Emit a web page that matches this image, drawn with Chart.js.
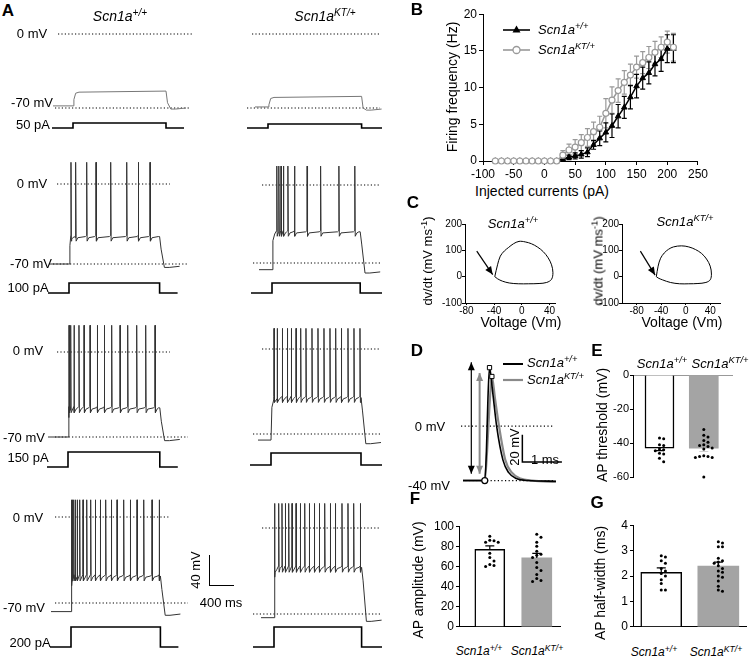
<!DOCTYPE html>
<html>
<head>
<meta charset="utf-8">
<title>Scn1a firing properties</title>
<script src="https://cdn.jsdelivr.net/npm/chart.js@4.4.1/dist/chart.umd.min.js"></script>
<style>
  body { margin: 0; background: #fff; }
  #fig { position: relative; width: 750px; height: 656px; overflow: hidden; font-family: "Liberation Sans", Arial, sans-serif; color: #000; }
  #fig canvas { position: absolute; }
  .t { position: absolute; white-space: nowrap; line-height: 1; }
  .t sup { font-size: 0.72em; vertical-align: 0.5em; line-height: 0; }
  .it { font-style: italic; }
  .pl { font-weight: bold; }
  .sb { position: absolute; background: #000; }
  svg { position: absolute; overflow: visible; }
</style>
</head>
<body>
<div id="fig"></div>
<script>
// ---------- A: evoked firing (time in ms from step onset, voltage in mV) ----------
const stepCurrents = [50, 100, 150, 200];
const stepDurWT = [1550, 1510, 1530, 1490];
const stepDurKT = [1560, 1470, 1500, 1460];
const restWT = [-68, -70, -70, -77];
const restKT = [-69, -76, -75, -73];
const plateauWT = [-55, -47, -47, -49];
const plateauKT = [-60, -43, -41, -33];
const peakWT = [null, 19, 22, 14];
const peakKT = [null, 17, 17, 20];
const spikesWT = [
  [],
  [33, 112, 295, 450, 695, 962, 1155, 1350],
  [17, 45, 100, 183, 267, 367, 488, 605, 728, 867, 995, 1145, 1295, 1450],
  [10, 25, 45, 70, 105, 145, 200, 262, 328, 405, 488, 578, 672, 767, 878, 988, 1100, 1212, 1350, 1470],
];
const spikesKT = [
  [],
  [80, 115, 150, 190, 265, 375, 585, 810, 1115, 1380],
  [50, 105, 188, 272, 338, 417, 495, 583, 683, 783, 883, 983, 1078, 1172, 1283, 1383, 1483],
  [12, 78, 133, 188, 245, 300, 367, 438, 512, 588, 672, 755, 845, 938, 1022, 1133, 1233, 1328, 1438],
];

// ---------- B: firing frequency vs injected current ----------
const injected = [-80, -70, -60, -50, -40, -30, -20, -10, 0, 10, 20, 30, 40, 50, 60, 70, 80, 90, 100, 110, 120, 130, 140, 150, 160, 170, 180, 190, 200, 210];
const freqWT = [0, 0, 0, 0, 0, 0, 0, 0, 0, 0, 0, 0.3, 0.5, 0.7, 0.9, 1.2, 2.2, 3.1, 3.9, 4.8, 6.1, 7.3, 8.7, 10.2, 11.3, 12.0, 13.2, 13.9, 15.3, 15.3];
const semWT = [0, 0, 0, 0, 0, 0, 0, 0, 0, 0, 0, 0.2, 0.3, 0.4, 0.5, 0.6, 0.6, 1.0, 1.3, 1.6, 1.6, 1.5, 1.6, 1.6, 1.5, 1.5, 1.6, 1.7, 1.9, 1.9];
const freqKT = [0, 0, 0, 0, 0, 0, 0, 0, 0, 0, 0, 0.8, 1.5, 1.9, 2.5, 3.2, 4.0, 4.6, 6.5, 8.3, 9.6, 10.7, 11.7, 12.8, 13.4, 14.1, 14.8, 15.5, 16.2, 15.5];
const semKT = [0, 0, 0, 0, 0, 0, 0, 0, 0, 0, 0, 0.6, 0.8, 1.0, 1.1, 1.2, 1.3, 1.5, 2.0, 1.8, 1.6, 1.6, 1.5, 1.5, 1.5, 1.5, 1.5, 1.4, 1.5, 1.9];
const bTicksX = [-100, -50, 0, 50, 100, 150, 200, 250];
const bTicksY = [0, 5, 10, 15, 20];

// ---------- C: phase plots (Vm, dV/dt) ----------
const phaseVmWT = [-39, -35, -31, -25, -19, -12, -4, 5, 14, 23, 31, 38, 43, 45, 43, 36, 25, 10, -5, -18, -28, -35, -39];
const phaseDvWT = [0, 45, 78, 98, 111, 125, 134, 132, 125, 112, 95, 72, 45, 15, -10, -22, -26, -27, -27, -24, -17, -8, 0];
const phaseVmKT = [-48, -45, -41, -35, -28, -20, -7, 5, 16, 26, 34, 40, 42, 40, 33, 20, 5, -10, -25, -38, -45, -48];
const phaseDvKT = [0, 40, 70, 90, 104, 113, 117, 113, 103, 88, 67, 40, 10, -12, -22, -26, -27, -27, -22, -12, -5, 0];
const cTicksX = [-80, -40, 0, 40];
const cTicksY = [-100, 0, 100, 200];

// ---------- D: single action potentials (ms, mV) ----------
const apTimeWT = [-0.55, 0, 0.04, 0.08, 0.12, 0.2, 0.3, 0.46, 0.6, 0.8, 1.1, 1.8];
const apVoltWT = [-40, -40, -20, 20, 43, 25, 0, -25, -34, -38.5, -40, -40.5];
const apTimeKT = [-0.55, 0, 0.06, 0.12, 0.18, 0.26, 0.36, 0.52, 0.68, 0.9, 1.2, 1.8];
const apVoltKT = [-40, -40, -18, 15, 36.5, 20, 0, -25, -34, -38.5, -40, -41];

// ---------- E-G: AP properties (mean, SEM, cells) ----------
const thrMean = [-43, -43];
const thrSem = [1.5, 2.0];
const thrWT = [-37, -37.5, -41, -41.5, -43.5, -44, -44.5, -46, -46.5, -49, -51];
const thrKT = [-32, -35.5, -36.5, -38.5, -39.5, -41, -41.5, -42, -43, -43.5, -47.5, -48, -48, -48.5, -48.5, -60];
const ampMean = [77, 68.5];
const ampSem = [3.4, 4.5];
const ampWT = [90, 86, 85.5, 84, 84, 73, 69, 65.5, 62, 61, 60];
const ampKT = [92, 89, 84, 80, 75, 72, 71, 69, 64, 59, 56, 52, 48, 46, 45];
const hwMean = [2.14, 2.39];
const hwSem = [0.18, 0.16];
const hwWT = [2.8, 2.75, 2.6, 2.5, 2.3, 2.2, 2.1, 2.0, 1.85, 1.7, 1.45, 1.45];
const hwKT = [3.35, 3.3, 3.15, 3.15, 2.7, 2.6, 2.55, 2.5, 2.4, 2.3, 2.2, 2.15, 2.0, 1.95, 1.8, 1.6, 1.45, 1.4];
const thrTicks = [-60, -40, -20, 0];
const ampTicks = [0, 20, 40, 60, 80, 100];
const hwTicks = [0, 1, 2, 3, 4];

const WT = 'Scn1a<sup>+/+</sup>';
const KT = 'Scn1a<sup>KT/+</sup>';
const GRAY = '#999';
const BAR_GRAY = '#a4a4a4';

// ---------- helpers ----------
const fig = document.getElementById('fig');
Chart.defaults.font.family = '"Liberation Sans", Arial, sans-serif';
Chart.defaults.font.size = 12;
Chart.defaults.color = '#000';

function canvasAt(left, top, w, h) {
  const c = document.createElement('canvas');
  c.width = w;
  c.height = h;
  c.style.left = left + 'px';
  c.style.top = top + 'px';
  c.style.width = w + 'px';
  c.style.height = h + 'px';
  fig.appendChild(c);
  return c.getContext('2d');
}

function label(html, x, y, size, cls, anchor) {
  const d = document.createElement('div');
  d.className = 't ' + (cls || '');
  d.innerHTML = html;
  d.style.left = x + 'px';
  d.style.top = y + 'px';
  d.style.fontSize = size + 'px';
  const tx = anchor === 'left' ? '0' : '-50%';
  d.style.transform = `translate(${tx},-50%)` + ((cls || '').includes('rot') ? ' rotate(-90deg)' : '');
  fig.appendChild(d);
}

function legendMark(x0, x1, y, color, width, marker) {
  const s = document.createElementNS('http://www.w3.org/2000/svg', 'svg');
  s.setAttribute('width', 1);
  s.setAttribute('height', 1);
  s.style.left = '0px';
  s.style.top = '0px';
  const mx = (x0 + x1) / 2;
  let m = '';
  if (marker === 'triangle') m = `<polygon points="${mx},${y - 4.5} ${mx - 4},${y + 2.5} ${mx + 4},${y + 2.5}" fill="${color}"/>`;
  if (marker === 'circle') m = `<circle cx="${mx}" cy="${y}" r="3.5" fill="#fff" stroke="${color}" stroke-width="1.3"/>`;
  s.innerHTML = `<line x1="${x0}" y1="${y}" x2="${x1}" y2="${y}" stroke="${color}" stroke-width="${width}"/>` + m;
  fig.appendChild(s);
}

function scaleBar(x, y, w, h) {
  const d = document.createElement('div');
  d.className = 'sb';
  d.style.left = x + 'px';
  d.style.top = y + 'px';
  d.style.width = w + 'px';
  d.style.height = h + 'px';
  fig.appendChild(d);
}

function axis(min, max, ticks, size, tickFont, tickLen, tickPad) {
  return {
    type: 'linear',
    min: min,
    max: max,
    afterBuildTicks: (s) => { s.ticks = ticks.map((v) => ({ value: v })); },
    afterFit: (s) => { if (s.isHorizontal()) s.height = size; else s.width = size; },
    grid: { drawOnChartArea: false, drawTicks: true, tickLength: tickLen || 4, color: '#000', tickColor: '#000' },
    border: { display: true, color: '#000', width: 1 },
    ticks: { padding: tickPad === undefined ? 2 : tickPad, color: '#000', font: { size: tickFont || 12 }, maxRotation: 0, autoSkip: false },
  };
}

function hidden(min, max) {
  return { type: 'linear', display: false, min: min, max: max };
}

function baseOptions(scales, padding, plugins) {
  return {
    responsive: false,
    animation: false,
    devicePixelRatio: 1,
    events: [],
    layout: { padding: padding },
    scales: scales,
    plugins: Object.assign({ legend: { display: false }, tooltip: { enabled: false } }, plugins || {}),
  };
}

function drawErrors(chart, i) {
  const ds = chart.data.datasets[i];
  const meta = chart.getDatasetMeta(i);
  const ys = chart.scales[meta.yAxisID];
  const ctx = chart.ctx;
  ctx.save();
  ctx.strokeStyle = ds.errorColor;
  ctx.lineWidth = ds.errorWidth || 1;
  meta.data.forEach((el, j) => {
    const e = ds.errors[j];
    if (!e) return;
    const v = ds.data[j].y;
    const ends = ds.oneSided ? [v + (v < 0 ? -e : e)] : [v - e, v + e];
    const y0 = ys.getPixelForValue(v);
    ends.forEach((end) => {
      const y1 = ys.getPixelForValue(end);
      ctx.beginPath();
      ctx.moveTo(el.x, y0);
      ctx.lineTo(el.x, y1);
      ctx.moveTo(el.x - ds.capWidth / 2, y1);
      ctx.lineTo(el.x + ds.capWidth / 2, y1);
      ctx.stroke();
    });
  });
  ctx.restore();
}

const errorBars = {
  id: 'errorBars',
  beforeDatasetsDraw(chart) {
    chart.data.datasets.forEach((ds, i) => { if (ds.errors && ds.errorsBehind) drawErrors(chart, i); });
  },
  afterDatasetDraw(chart, args) {
    const ds = chart.data.datasets[args.index];
    if (ds.errors && !ds.errorsBehind) drawErrors(chart, args.index);
  },
};

function arrowHead(ctx, x0, y0, x1, y1, len, half) {
  const a = Math.atan2(y1 - y0, x1 - x0);
  ctx.beginPath();
  ctx.moveTo(x1, y1);
  ctx.lineTo(x1 - len * Math.cos(a) + half * Math.sin(a), y1 - len * Math.sin(a) - half * Math.cos(a));
  ctx.lineTo(x1 - len * Math.cos(a) - half * Math.sin(a), y1 - len * Math.sin(a) + half * Math.cos(a));
  ctx.closePath();
  ctx.fill();
}

const arrows = {
  id: 'arrows',
  afterDatasetsDraw(chart, args, opts) {
    const list = opts.list || [];
    const ctx = chart.ctx;
    list.forEach((a) => {
      const xs = chart.scales.x;
      const ys = chart.scales.y;
      const x0 = xs.getPixelForValue(a.from[0]);
      const y0 = ys.getPixelForValue(a.from[1]);
      const x1 = xs.getPixelForValue(a.to[0]);
      const y1 = ys.getPixelForValue(a.to[1]);
      ctx.save();
      ctx.strokeStyle = a.color;
      ctx.fillStyle = a.color;
      ctx.lineWidth = a.width;
      ctx.beginPath();
      ctx.moveTo(x0, y0);
      ctx.lineTo(x1, y1);
      ctx.stroke();
      arrowHead(ctx, x0, y0, x1, y1, 8, 3.5);
      if (a.double) arrowHead(ctx, x1, y1, x0, y0, 8, 3.5);
      ctx.restore();
    });
  },
};

Chart.register(errorBars, arrows);

function line(data, color, width, extra) {
  return Object.assign({
    data: data,
    showLine: true,
    borderColor: color,
    borderWidth: width,
    pointRadius: 0,
    tension: 0,
    fill: false,
  }, extra || {});
}

// ---------- A: traces ----------
const MS_PER_PX = 400 / 24;
const px = (v) => v * MS_PER_PX;

// [stepX, 0 mV y, -70 mV y, step base y, step top y, 0 mV line from/to, -70 mV line from/to] in px
const cellLayout = [
  [73, 34, 108, 128, 123, -15, 120, -18, 117],
  [268, 34, 108, 128, 124, -16, 112, -21, 112],
  [69, 184, 264, 293, 283, -12, 101, -16, 119],
  [272, 185, 263, 293, 283, -10, 108, -19, 108],
  [68, 352, 437, 467, 452, -11, 102, -13, 120],
  [271, 349, 434, 465, 453, -9, 109, -18, 109],
  [71, 517, 603, 647, 627, -16, 99, -16, 117],
  [274, 528, 614, 647, 627, -12, 106, -21, 106],
];

const genotypes = [
  { rest: restWT, plateau: plateauWT, peak: peakWT, spikes: spikesWT, dur: stepDurWT },
  { rest: restKT, plateau: plateauKT, peak: peakKT, spikes: spikesKT, dur: stepDurKT },
];

function buildTrace(rest, plateau, peak, spikes, dur, t0, t1) {
  const pts = [
    { x: t0, y: rest }, { x: 0, y: rest },
    { x: 15, y: plateau - 7 }, { x: 45, y: plateau - 1 }, { x: 100, y: plateau },
  ];
  spikes.forEach((t, j) => {
    const next = j + 1 < spikes.length ? spikes[j + 1] : dur;
    pts.push({ x: t - 3, y: plateau + 2 }, { x: t, y: peak }, { x: t + 7, y: plateau - 3 });
    if (next - t > 70) pts.push({ x: t + 35, y: plateau }, { x: next - 22, y: plateau + 1 });
  });
  pts.push(
    { x: dur, y: plateau + 1 }, { x: dur + 25, y: plateau - 10 },
    { x: dur + 80, y: rest - 3 }, { x: dur + 160, y: rest - 3 }, { x: t1, y: rest - 2 }
  );
  return pts.sort((a, b) => a.x - b.x);
}

cellLayout.forEach((L, idx) => {
  const row = Math.floor(idx / 2);
  const col = idx % 2;
  const g = genotypes[col];
  const [upX, zeroY, m70Y, baseY, highY, z0, z1, m0, m1] = L;
  const left = upX - 25;
  const width = col === 0 ? 150 : 382 - left;
  const top = Math.max(0, zeroY - 34);
  const height = baseY + 4 - top;
  const k = (m70Y - zeroY) / 70;
  const yMax = (zeroY - top) / k;
  const yMin = yMax - height / k;
  const amp = stepCurrents[row];
  const k2 = (baseY - highY) / amp;
  const y2Max = (baseY - top) / k2;
  const y2Min = y2Max - height / k2;
  const dur = g.dur[row];

  const trace = buildTrace(g.rest[row], g.plateau[row], g.peak[row], g.spikes[row], dur, px(col === 0 ? -20 : -13), dur + px(20));
  const step = [
    { x: px(-21), y: 0 }, { x: 0, y: 0 }, { x: 0, y: amp },
    { x: dur, y: amp }, { x: dur, y: 0 }, { x: dur + px(col === 0 ? 18 : 40), y: 0 },
  ];
  const dots = { borderDash: [1.2, 2.2], order: 3 };

  new Chart(canvasAt(left, top, width, height), {
    type: 'scatter',
    data: {
      datasets: [
        line(trace, row === 0 ? '#777' : '#333', 1, { order: 1 }),
        line([{ x: px(z0), y: 0 }, { x: px(z1), y: 0 }], '#000', 1.2, dots),
        line([{ x: px(m0), y: -70 }, { x: px(m1), y: -70 }], '#000', 1.2, dots),
        line(step, '#000', 1.6, { yAxisID: 'y2', order: 2 }),
      ],
    },
    options: baseOptions({
      x: hidden(px(-25), px(width - 25)),
      y: hidden(yMin, yMax),
      y2: Object.assign(hidden(y2Min, y2Max), { position: 'right' }),
    }, 0),
  });
});

label('A', 8, 10, 17, 'pl');
label(WT, 120, 16, 14, 'it');
label(KT, 325, 16, 14, 'it');
const aLabels = [
  ['0 mV', 32, 33], ['-70 mV', 32, 102], ['50 pA', 33, 124],
  ['0 mV', 32, 183], ['-70 mV', 31, 263], ['100 pA', 28, 287],
  ['0 mV', 28, 350], ['-70 mV', 24, 437], ['150 pA', 28, 457],
  ['0 mV', 28, 517], ['-70 mV', 24, 607], ['200 pA', 30, 642],
];
aLabels.forEach(([t, x, y]) => label(t, x, y, 13));
scaleBar(208.5, 555, 1.5, 31);
scaleBar(208.5, 584.5, 25, 1.5);
label('40 mV', 195, 570, 13, 'rot');
label('400 ms', 221, 602, 13);

// ---------- B ----------
new Chart(canvasAt(448, 5, 262, 174), {
  type: 'scatter',
  data: {
    datasets: [
      line(injected.map((x, i) => ({ x: x, y: freqKT[i] })), GRAY, 1.5, {
        pointStyle: 'circle', pointRadius: 3, pointBackgroundColor: '#fff',
        pointBorderColor: GRAY, pointBorderWidth: 1.2, clip: false, order: 0,
        errors: semKT, errorColor: GRAY, errorsBehind: true, capWidth: 5, errorWidth: 1.2,
      }),
      line(injected.map((x, i) => ({ x: x, y: freqWT[i] })), '#000', 1.5, {
        pointStyle: 'triangle', pointRadius: 3.2, pointBackgroundColor: '#000',
        pointBorderColor: '#000', pointBorderWidth: 1, clip: false, order: 1,
        errors: semWT, errorColor: '#000', errorsBehind: true, capWidth: 5, errorWidth: 1.2,
      }),
    ],
  },
  options: baseOptions({
    x: axis(-100, 250, bTicksX, 18),
    y: axis(0, 20, bTicksY, 35),
  }, { top: 8, right: 12, left: 0, bottom: 0 }),
});
label('B', 417, 9, 17, 'pl');
label('Firing frequency (Hz)', 452, 87, 14, 'rot');
label('Injected currents (pA)', 542, 191, 14);
legendMark(503, 530, 30, '#000', 1.6, 'triangle');
legendMark(503, 530, 50, GRAY, 1.6, 'circle');
label(WT, 538, 29, 13, 'it', 'left');
label(KT, 538, 49, 13, 'it', 'left');

// ---------- C ----------
function phaseChart(left, width, xMin, xMax, vm, dv, arrow) {
  new Chart(canvasAt(left, 218, width, 101), {
    type: 'scatter',
    data: {
      datasets: [
        line(vm.map((v, i) => ({ x: v, y: dv[i] })), '#000', 1, { tension: 0.35, clip: false }),
      ],
    },
    options: baseOptions({
      x: axis(xMin, xMax, cTicksX, 16, 10, 2, 0),
      y: axis(-100, 200, cTicksY, 30, 10, 3, 0),
    }, { top: 6, right: 8, left: 0, bottom: 0 }, {
      arrows: { list: [arrow] },
    }),
  });
}
phaseChart(435, 128, -82, 48, phaseVmWT, phaseDvWT, { from: [-65, 97], to: [-42, 8], color: '#000', width: 1.2 });
phaseChart(592, 136, -104, 56, phaseVmKT, phaseDvKT, { from: [-74, 97], to: [-50, 6], color: '#000', width: 1.2 });
label('C', 413, 202, 17, 'pl');
label(WT, 513, 223, 13, 'it');
label(KT, 685, 221, 13, 'it');
label('dv/dt (mV ms<sup>-1</sup>)', 427, 261, 13, 'rot');
label('dv/dt (mV ms<sup>-1</sup>)', 598, 261, 13, 'rot');
label('Voltage (Vm)', 521, 322, 14);
label('Voltage (Vm)', 682, 322, 14);

// ---------- D ----------
{
  const iW = apVoltWT.indexOf(Math.max(...apVoltWT));
  const iK = apVoltKT.indexOf(Math.max(...apVoltKT));
  const dots = { borderDash: [1.2, 2.4], order: 5 };
  new Chart(canvasAt(440, 340, 130, 155), {
    type: 'scatter',
    data: {
      datasets: [
        line([{ x: -0.6, y: 0 }, { x: 1.74, y: 0 }], '#000', 1.2, dots),
        line([{ x: -0.49, y: -40 }, { x: 1.74, y: -40 }], '#000', 1.2, dots),
        line(apTimeKT.map((t, i) => ({ x: t, y: apVoltKT[i] })), '#8a8a8a', 2.2, { cubicInterpolationMode: 'monotone', order: 2 }),
        line(apTimeWT.map((t, i) => ({ x: t, y: apVoltWT[i] })), '#000', 1.6, { cubicInterpolationMode: 'monotone', order: 1 }),
        line([{ x: 0.95, y: -6.4 }, { x: 0.95, y: -26.3 }, { x: 1.95, y: -26.3 }], '#000', 1.5, { order: 3 }),
        {
          data: [{ x: apTimeWT[iW], y: apVoltWT[iW] }, { x: apTimeKT[iK], y: apVoltKT[iK] }],
          pointStyle: 'rect', pointRadius: 3, pointBackgroundColor: '#fff',
          pointBorderColor: '#000', pointBorderWidth: 1, order: 0,
        },
        {
          data: [{ x: apTimeWT[1], y: apVoltWT[1] }],
          pointStyle: 'circle', pointRadius: 3, pointBackgroundColor: '#fff',
          pointBorderColor: '#000', pointBorderWidth: 1.2, order: 0,
        },
      ],
    },
    options: baseOptions({
      x: hidden(-1.0, 2.023),
      y: hidden(-46.8, 59.5),
    }, 0, {
      arrows: {
        list: [
          { from: [-0.34, -35], to: [-0.34, 47], color: '#000', width: 1.2, double: true },
          { from: [-0.13, -35], to: [-0.13, 39], color: '#8a8a8a', width: 2, double: true },
        ],
      },
    }),
  });
}
label('D', 417, 350, 17, 'pl');
label('0 mV', 430, 426, 13);
label('-40 mV', 429, 485, 13);
legendMark(503, 523, 364, '#000', 2);
legendMark(503, 523, 380, '#8a8a8a', 2.2);
label(WT, 527, 362, 13, 'it', 'left');
label(KT, 527, 379, 13, 'it', 'left');
label('20 mV', 514, 447, 13, 'rot');
label('1 ms', 545, 459, 13);

// ---------- E, F, G ----------
function swarm(values, center, pxPerUnit, unitsPerPx) {
  const placed = [];
  return values.map((v) => {
    const py = v * pxPerUnit;
    for (let k = 0; k < 40; k++) {
      const off = (k % 2 ? 1 : -1) * Math.ceil(k / 2) * 4.2;
      if (placed.every((p) => Math.hypot(p.x - off, p.y - py) >= 3.8)) {
        placed.push({ x: off, y: py });
        return { x: center + off * unitsPerPx, y: v };
      }
    }
    return { x: center, y: v };
  });
}

function barPanel(cfg) {
  const pxPerUnit = cfg.areaH / (cfg.max - cfg.min);
  const unitsPerPx = 2 / cfg.areaW;
  const bar = (i, fill, border, errColor) => ({
    type: 'bar',
    data: [{ x: cfg.pos[i], y: cfg.mean[i] }],
    backgroundColor: fill,
    borderColor: border,
    borderWidth: border ? 1.5 : 0,
    barThickness: cfg.thick,
    grouped: false,
    errors: [cfg.sem[i]],
    errorColor: errColor,
    oneSided: true,
    capWidth: 9,
    errorWidth: 1.2,
    order: 2,
  });
  const dots = (vals, i) => ({
    type: 'scatter',
    data: swarm(vals, cfg.pos[i], pxPerUnit, unitsPerPx),
    pointStyle: 'circle',
    pointRadius: 1.5,
    pointBackgroundColor: '#000',
    pointBorderWidth: 0,
    clip: false,
    order: 0,
  });
  const xAxis = {
    type: 'linear',
    min: 0,
    max: 2,
    offset: false,
    position: cfg.xTop ? 'top' : 'bottom',
    afterFit: (s) => { s.height = 0; },
    ticks: { display: false },
    grid: { display: false, offset: false },
    border: { display: true, color: cfg.xTop ? '#999' : '#000', width: 1 },
  };
  new Chart(canvasAt(cfg.left, cfg.top, cfg.w, cfg.h), {
    type: 'bar',
    data: {
      datasets: [
        bar(0, '#fff', '#000', '#000'),
        bar(1, BAR_GRAY, null, cfg.kErr),
        dots(cfg.wt, 0),
        dots(cfg.kt, 1),
      ],
    },
    options: baseOptions({
      x: xAxis,
      y: axis(cfg.min, cfg.max, cfg.ticks, 30, cfg.tickFont, 3, cfg.tickPad),
    }, cfg.pad),
  });
}

barPanel({
  left: 603, top: 367, w: 135, h: 118, areaW: 99, areaH: 102,
  pad: { top: 8, bottom: 8, left: 0, right: 6 }, xTop: true, tickFont: 11, tickPad: 1,
  min: -60, max: 0, ticks: thrTicks, pos: [0.535, 1.43], thick: 29,
  mean: thrMean, sem: thrSem, wt: thrWT, kt: thrKT, kErr: '#d0d0d0',
});
barPanel({
  left: 429, top: 517, w: 135, h: 119, areaW: 101, areaH: 107,
  pad: { top: 8, bottom: 4, left: 0, right: 4 }, tickFont: 12, tickPad: 2,
  min: 0, max: 100, ticks: ampTicks, pos: [0.61, 1.54], thick: 30,
  mean: ampMean, sem: ampSem, wt: ampWT, kt: ampKT, kErr: '#000',
});
barPanel({
  left: 603, top: 516, w: 147, h: 120, areaW: 114, areaH: 108,
  pad: { top: 8, bottom: 4, left: 0, right: 3 }, tickFont: 12, tickPad: 2,
  min: 0, max: 4, ticks: hwTicks, pos: [0.5, 1.51], thick: 41,
  mean: hwMean, sem: hwSem, wt: hwWT, kt: hwKT, kErr: '#000',
});

label('E', 597, 350, 17, 'pl');
label(WT, 662, 363, 13, 'it');
label(KT, 720, 363, 13, 'it');
label('AP threshold (mV)', 602, 425, 14, 'rot');

label('F', 415, 498, 17, 'pl');
label('AP amplitude (mV)', 418, 580, 14, 'rot');
label(WT, 479, 651, 12, 'it');
label(KT, 537, 651, 12, 'it');

label('G', 597, 502, 17, 'pl');
label('AP half-width (ms)', 600, 583, 14, 'rot');
label(WT, 654, 652, 12, 'it');
label(KT, 716, 652, 12, 'it');
</script>
</body>
</html>
